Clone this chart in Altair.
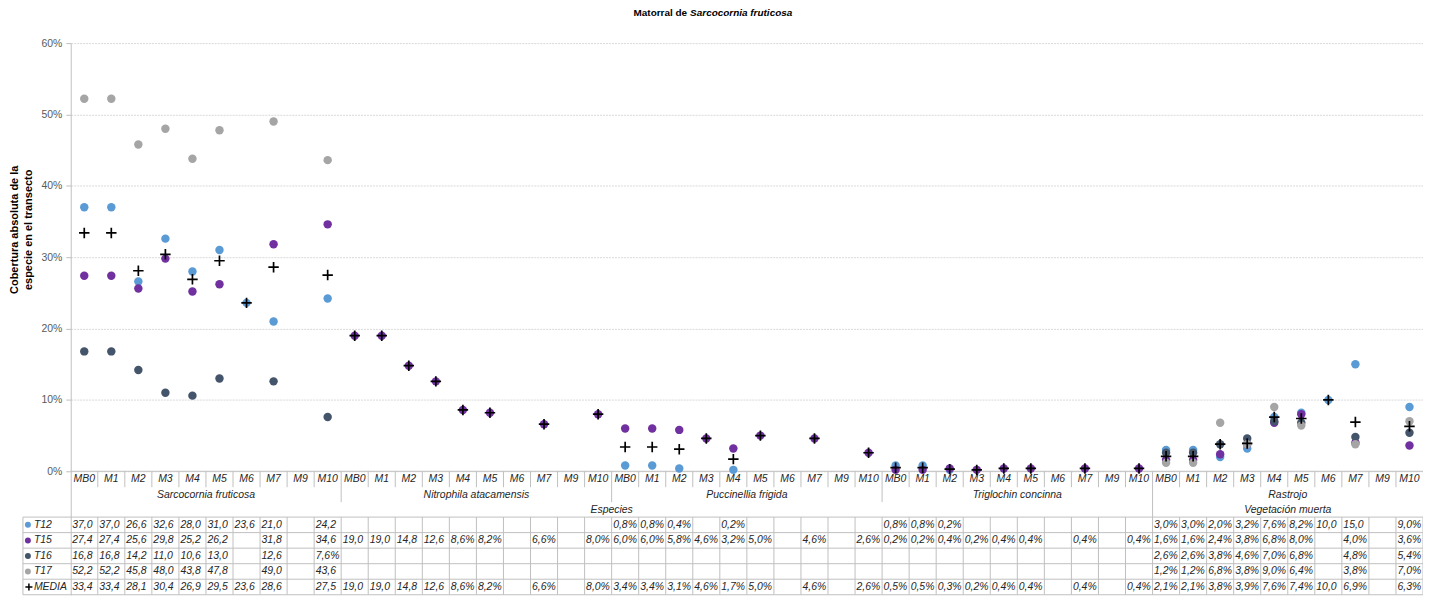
import altair as alt
import pandas as pd

N = None
transects = ["MB0", "M1", "M2", "M3", "M4", "M5", "M6", "M7", "M9", "M10"]
species = ["Sarcocornia fruticosa", "Nitrophila atacamensis", "Puccinellia frigida",
           "Triglochin concinna", "Rastrojo"]
groups = ["Especies", "Vegetación muerta"]
group_span = [(0, 3), (4, 4)]  # species index range of each group
series = ["T12", "T15", "T16", "T17"]
colors = ["#5B9BD5", "#7030A0", "#44546A", "#A5A5A5"]

# values in % (5 species x 10 transects)
t12 = [37.0, 37.0, 26.6, 32.6, 28.0, 31.0, 23.6, 21.0, N, 24.2,
       N, N, N, N, N, N, N, N, N, N,
       0.8, 0.8, 0.4, N, 0.2, N, N, N, N, N,
       0.8, 0.8, 0.2, N, N, N, N, N, N, N,
       3.0, 3.0, 2.0, 3.2, 7.6, 8.2, 10.0, 15.0, N, 9.0]
t15 = [27.4, 27.4, 25.6, 29.8, 25.2, 26.2, N, 31.8, N, 34.6,
       19.0, 19.0, 14.8, 12.6, 8.6, 8.2, N, 6.6, N, 8.0,
       6.0, 6.0, 5.8, 4.6, 3.2, 5.0, N, 4.6, N, 2.6,
       0.2, 0.2, 0.4, 0.2, 0.4, 0.4, N, 0.4, N, 0.4,
       1.6, 1.6, 2.4, 3.8, 6.8, 8.0, N, 4.0, N, 3.6]
t16 = [16.8, 16.8, 14.2, 11.0, 10.6, 13.0, N, 12.6, N, 7.6,
       N, N, N, N, N, N, N, N, N, N,
       N, N, N, N, N, N, N, N, N, N,
       N, N, N, N, N, N, N, N, N, N,
       2.6, 2.6, 3.8, 4.6, 7.0, 6.8, N, 4.8, N, 5.4]
t17 = [52.2, 52.2, 45.8, 48.0, 43.8, 47.8, N, 49.0, N, 43.6,
       N, N, N, N, N, N, N, N, N, N,
       N, N, N, N, N, N, N, N, N, N,
       N, N, N, N, N, N, N, N, N, N,
       1.2, 1.2, 6.8, 3.8, 9.0, 6.4, N, 3.8, N, 7.0]
media = [33.4, 33.4, 28.1, 30.4, 26.9, 29.5, 23.6, 28.6, N, 27.5,
         19.0, 19.0, 14.8, 12.6, 8.6, 8.2, N, 6.6, N, 8.0,
         3.4, 3.4, 3.1, 4.6, 1.7, 5.0, N, 4.6, N, 2.6,
         0.5, 0.5, 0.3, 0.2, 0.4, 0.4, N, 0.4, N, 0.4,
         2.1, 2.1, 3.8, 3.9, 7.6, 7.4, 10.0, 6.9, N, 6.3]
y_ticks = [0, 0.1, 0.2, 0.3, 0.4, 0.5, 0.6]
y_title = ["Cobertura absoluta de la", "especie en el transecto"]
title_a = "Matorral de"
title_b = "Sarcocornia fruticosa"

# ---------------- layout ----------------
NC = len(species) * len(transects)
W = 1358
PLOT_H = 430
TABLE_H = 124
PXU = PLOT_H / 0.6
STEP = W / NC
H = PLOT_H + TABLE_H
FONT = "Liberation Sans"
TXT = "#262626"
GRID = "#BFBFBF"
ROW_TOP = 46
ROW_H = (TABLE_H - ROW_TOP) / 5


def ty(px):
    return -px / PXU


def fmt(v):
    s = f"{v:.1f}" if v >= 10 else f"{v:.1f}%"
    return s.replace(".", ",")


xs = alt.Scale(domain=[-0.5, NC - 0.5], nice=False, zero=False)
ys = alt.Scale(domain=[ty(TABLE_H), 0.6], nice=False, zero=False)
yaxis = alt.Axis(values=y_ticks, format=".0%", grid=True, gridColor="#D9D9D9",
                 gridDash=[2, 1], domain=True, domainColor=GRID, ticks=True,
                 tickColor=GRID, tickSize=5, labelPadding=4, labelFont=FONT,
                 labelFontSize=10.5, labelColor="#595959", title=y_title,
                 titleFont=FONT, titleFontSize=11, titleFontWeight="bold",
                 titleColor="#000000", titleY=187, titlePadding=7,
                 titleLineHeight=14)


def X():
    return alt.X("x:Q", scale=xs, axis=None)


def Y():
    return alt.Y("y:Q", scale=ys, axis=yaxis)


cscale = alt.Scale(domain=series, range=colors)

# points
pts = []
for name, vals in zip(series, [t12, t15, t16, t17]):
    for i, v in enumerate(vals):
        if v is not None:
            pts.append({"x": i, "y": v / 100, "series": name})
pts_df = pd.DataFrame(pts)
med_df = pd.DataFrame([{"x": i, "y": v / 100} for i, v in enumerate(media) if v is not None])

# table texts
rows_all = series + ["MEDIA"]
all_vals = [t12, t15, t16, t17, media]
cells = []
for k, vals in enumerate(all_vals):
    for i, v in enumerate(vals):
        if v is not None:
            cells.append({"x": i - 0.5, "y": ty(ROW_TOP + ROW_H * (k + 0.5)), "label": fmt(v)})
cells_df = pd.DataFrame(cells)

cat_df = pd.DataFrame([{"x": s * 10 + t, "y": ty(8), "label": tr}
                       for s in range(len(species)) for t, tr in enumerate(transects)])
sp_df = pd.DataFrame([{"x": s * 10 + 4.5, "y": ty(24), "label": sp} for s, sp in enumerate(species)])
gr_df = pd.DataFrame([{"x": (a * 10 + b * 10 + 9) / 2, "y": ty(38.5), "label": g}
                      for g, (a, b) in zip(groups, group_span)])

head_df = pd.DataFrame([{"x": -0.5, "y": ty(ROW_TOP + ROW_H * (k + 0.5)), "label": r,
                         "series": r} for k, r in enumerate(rows_all)])

# separators
vr = []
for b in range(1, NC):
    if b % 10 != 0:
        h = 16
    elif b == 40:
        h = ROW_TOP
    else:
        h = 31
    vr.append({"x": b - 0.5, "y": 0, "y2": ty(h)})
for b in range(1, NC + 1):
    vr.append({"x": b - 0.5, "y": ty(ROW_TOP), "y2": ty(TABLE_H)})
vr_df = pd.DataFrame(vr)
hr_df = pd.DataFrame([{"x": -0.5, "x2": NC - 0.5, "y": ty(ROW_TOP + ROW_H * k)} for k in range(6)])
base_df = pd.DataFrame([{"x": -0.5, "x2": NC - 0.5, "y": 0}])
lb_df = pd.DataFrame([{"x": -0.5, "y": ty(ROW_TOP), "y2": ty(TABLE_H)}])

split = (690 - 71) / STEP - 0.5
ttl_df = pd.DataFrame([{"x": split, "y": 0.6 + 30 / PXU}])

PLUS = "M-1,0L1,0M0,-1L0,1"

txt = dict(font=FONT, fontSize=10.5, fontStyle="italic", color=TXT, baseline="middle")

layers = [
    alt.Chart(base_df).mark_rule(color=GRID).encode(x=X(), x2="x2:Q", y=Y()),
    alt.Chart(vr_df).mark_rule(color=GRID).encode(x=X(), y=Y(), y2="y2:Q"),
    alt.Chart(hr_df).mark_rule(color=GRID, xOffset=-48).encode(x=X(), x2="x2:Q", y=Y()),
    alt.Chart(lb_df).mark_rule(color=GRID, xOffset=-48).encode(x=X(), y=Y(), y2="y2:Q"),
    alt.Chart(cat_df).mark_text(align="center", **txt).encode(x=X(), y=Y(), text="label:N"),
    alt.Chart(sp_df).mark_text(align="center", **txt).encode(x=X(), y=Y(), text="label:N"),
    alt.Chart(gr_df).mark_text(align="center", **txt).encode(x=X(), y=Y(), text="label:N"),
    alt.Chart(cells_df).mark_text(align="left", dx=1.5, **txt).encode(x=X(), y=Y(), text="label:N"),
    alt.Chart(head_df).mark_text(align="left", dx=-37, **txt).encode(x=X(), y=Y(), text="label:N"),
    alt.Chart(head_df[head_df.series != "MEDIA"]).mark_point(
        filled=True, size=36, opacity=1, xOffset=-43, shape="circle").encode(
        x=X(), y=Y(), color=alt.Color("series:N", scale=cscale, legend=None)),
    alt.Chart(head_df[head_df.series == "MEDIA"]).mark_point(
        shape=PLUS, size=50, stroke="black", strokeWidth=1.5, opacity=1, xOffset=-42).encode(
        x=X(), y=Y()),
    alt.Chart(pts_df).mark_circle(size=72, opacity=1).encode(
        x=X(), y=Y(), color=alt.Color("series:N", scale=cscale, legend=None)),
    alt.Chart(med_df).mark_point(shape=PLUS, size=110, stroke="black", strokeWidth=1.7,
                                 opacity=1).encode(x=X(), y=Y()),
    alt.Chart(ttl_df).mark_text(align="right", baseline="middle", font=FONT, fontSize=10,
                                fontWeight="bold", color="black").encode(
        x=X(), y=Y(), text=alt.value(title_a)),
    alt.Chart(ttl_df).mark_text(align="left", dx=3, baseline="middle", font=FONT, fontSize=10,
                                fontWeight="bold", fontStyle="italic", color="black").encode(
        x=X(), y=Y(), text=alt.value(title_b)),
]

chart = alt.layer(*layers).properties(
    width=W, height=H,
    autosize=alt.AutoSizeParams(type="none"),
    padding={"left": 63, "top": 34, "right": 0, "bottom": 0},
).configure_view(stroke=None)

chart.save("out.html", embed_options={"renderer": "svg", "actions": False})
